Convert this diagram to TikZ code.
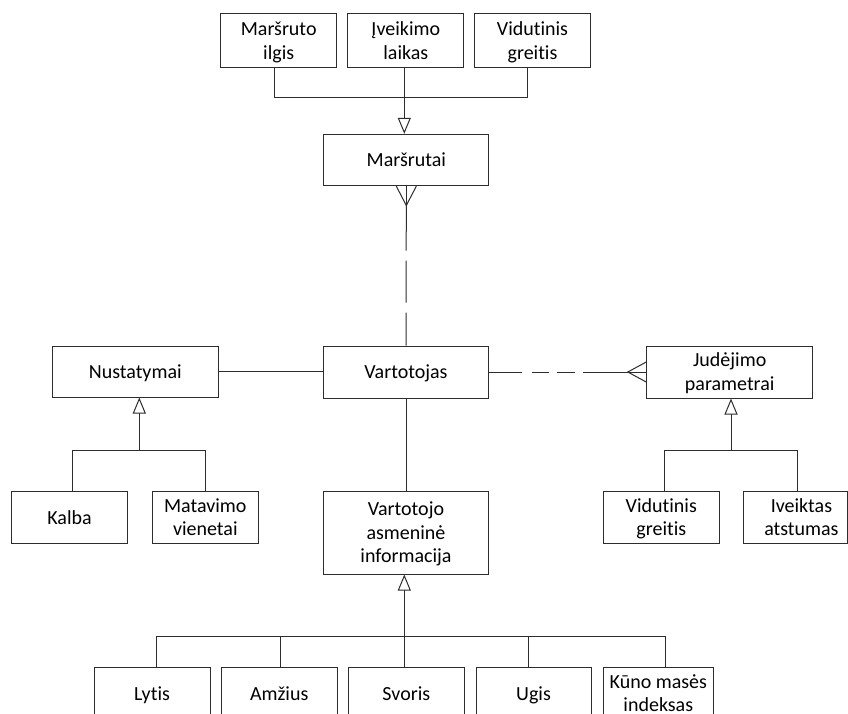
\documentclass[tikz,border=0pt]{standalone}
\usepackage{fontspec}
\setmainfont{Carlito}[Ligatures=NoCommon]
\usetikzlibrary{arrows.meta,calc}
\definecolor{linec}{RGB}{45,45,45}
\newcommand{\fsr}{\rule{0pt}{18pt}}
\newcommand{\lsr}{\rule[-5pt]{0pt}{5pt}}
\begin{document}
\begin{tikzpicture}[x=1pt,y=-1pt,
  box/.style={draw=linec, line width=1pt, fill=white, rectangle, inner sep=0pt,
    align=center, font=\fontsize{20}{23.5}\selectfont, text=black},
  conn/.style={draw=linec, line width=1pt},
  gen/.style={conn, -{Triangle[open, length=16pt, width=13pt, fill=white, line width=1pt]}},
]
\useasboundingbox (0,0) rectangle (848,713);
\clip (0,0) rectangle (848,713);
\fill[white] (0,0) rectangle (848,713);

% top attributes
\node[box, minimum width=116, minimum height=53.7] (m1) at (278.7,40.8) {\fsr Maršruto\\ilgis\lsr};
\node[box, minimum width=116, minimum height=53.7] (m2) at (405.8,40.8) {\fsr Įveikimo\\laikas\lsr};
\node[box, minimum width=116, minimum height=53.7] (m3) at (532.5,40.8) {\fsr Vidutinis\\greitis\lsr};
\node[box, minimum width=164.7, minimum height=51.4] (mar) at (406.3,160) {\fsr Maršrutai\lsr};

% middle row
\node[box, minimum width=165.7, minimum height=52] (var) at (406,372) {\fsr Vartotojas\lsr};
\node[box, minimum width=166, minimum height=51] (nus) at (135.3,371.5) {\fsr Nustatymai\lsr};
\node[box, minimum width=166, minimum height=52] (jud) at (729.7,372) {\fsr Judėjimo\\parametrai\lsr};

% third row
\node[box, minimum width=115.6, minimum height=51.6] (kal) at (69.5,517.5) {\fsr Kalba\lsr};
\node[box, minimum width=106, minimum height=51.6] (mat) at (205.3,517.5) {\fsr Matavimo\\vienetai\lsr};
\node[box, minimum width=116, minimum height=51.6] (vg2) at (661.3,517.5) {\fsr Vidutinis\\greitis\lsr};
\node[box, minimum width=104.2, minimum height=51.6,
  label={[name=ivet, align=center, inner sep=0pt, font=\fontsize{20}{23.5}\selectfont, xshift=6pt]center:\fsr Iveiktas\\atstumas\lsr}] (ive) at (795.4,517.5) {};
\node[box, minimum width=165.7, minimum height=83] (vai) at (406,532.5) {\fsr Vartotojo\\asmeninė\\informacija\lsr};

% bottom row
\node[box, minimum width=116, minimum height=52] (lyt) at (152,693.7) {\fsr Lytis\lsr};
\node[box, minimum width=116, minimum height=52] (amz) at (279.2,693.7) {\fsr Amžius\lsr};
\node[box, minimum width=116, minimum height=52] (svo) at (406.3,693.7) {\fsr Svoris\lsr};
\node[box, minimum width=115, minimum height=52] (ugi) at (533.5,693.7) {\fsr Ugis\lsr};
\node[box, minimum width=110, minimum height=52] (kun) at (658.3,693.7) {\fsr Kūno masės\\indeksas\lsr};

% top generalization
\coordinate (topbar) at (0,97.7);
\draw[conn] ([xshift=-4.7]m1.south) |- ([xshift=-4.8]m3.south |- topbar) -- ([xshift=-4.8]m3.south);
\draw[gen] ([xshift=-1.5]m2.south) -- ([xshift=-2]mar.north);

% Marsrutai -- Vartotojas (crow's foot, dashed)
\coordinate (cf1) at ($(mar.south)+(0,19.3)$);
\draw[conn] ([xshift=-10]mar.south) -- (cf1) -- ([xshift=10]mar.south);
\draw[conn] (mar.south) -- (cf1);
\draw[conn, dash pattern=on 45pt off 10pt on 42pt off 10pt on 80pt] (cf1) -- (var.north);

% Vartotojas -- Judejimo parametrai (crow's foot, dashed)
\coordinate (cf2) at ($(jud.west)+(-18.4,0)$);
\draw[conn] ([yshift=-10]jud.west) -- (cf2) -- ([yshift=10]jud.west);
\draw[conn] (cf2) -- (jud.west);
\draw[conn, dash pattern=on 33pt off 10pt on 17pt off 8pt on 18pt off 8pt on 80pt] (var.east) -- (cf2);

% Nustatymai -- Vartotojas
\draw[conn] (nus.east) -- (nus.east -| var.west);
% Vartotojas -- Vartotojo asmenine informacija
\draw[conn] (var.south) -- (vai.north);

% Nustatymai generalization
\coordinate (nbar) at (0,450);
\draw[conn] ([xshift=3.2]kal.north) |- ([xshift=-0.3]mat.north |- nbar) -- ([xshift=-0.3]mat.north);
\draw[gen] ([xshift=4]nus.south |- nbar) -- ([xshift=4]nus.south);

% Judejimo parametrai generalization
\coordinate (jbar) at (0,450.7);
\draw[conn] ([xshift=3]vg2.north) |- ([xshift=2]ive.north |- jbar) -- ([xshift=2]ive.north);
\draw[gen] ([xshift=1.3]jud.south |- jbar) -- ([xshift=1.3]jud.south);

% Vartotojo asmenine informacija generalization
\coordinate (bbar) at (0,636.7);
\draw[conn] ([xshift=4.3]lyt.north) |- ([xshift=6.7]kun.north |- bbar) -- ([xshift=6.7]kun.north);
\draw[conn] ([xshift=1.1]amz.north) -- ([xshift=1.1]amz.north |- bbar);
\draw[conn] ([xshift=-5.2]ugi.north) -- ([xshift=-5.2]ugi.north |- bbar);
\draw[gen] ([xshift=-2]svo.north) -- ([xshift=-1.7]vai.south);
\end{tikzpicture}
\end{document}
